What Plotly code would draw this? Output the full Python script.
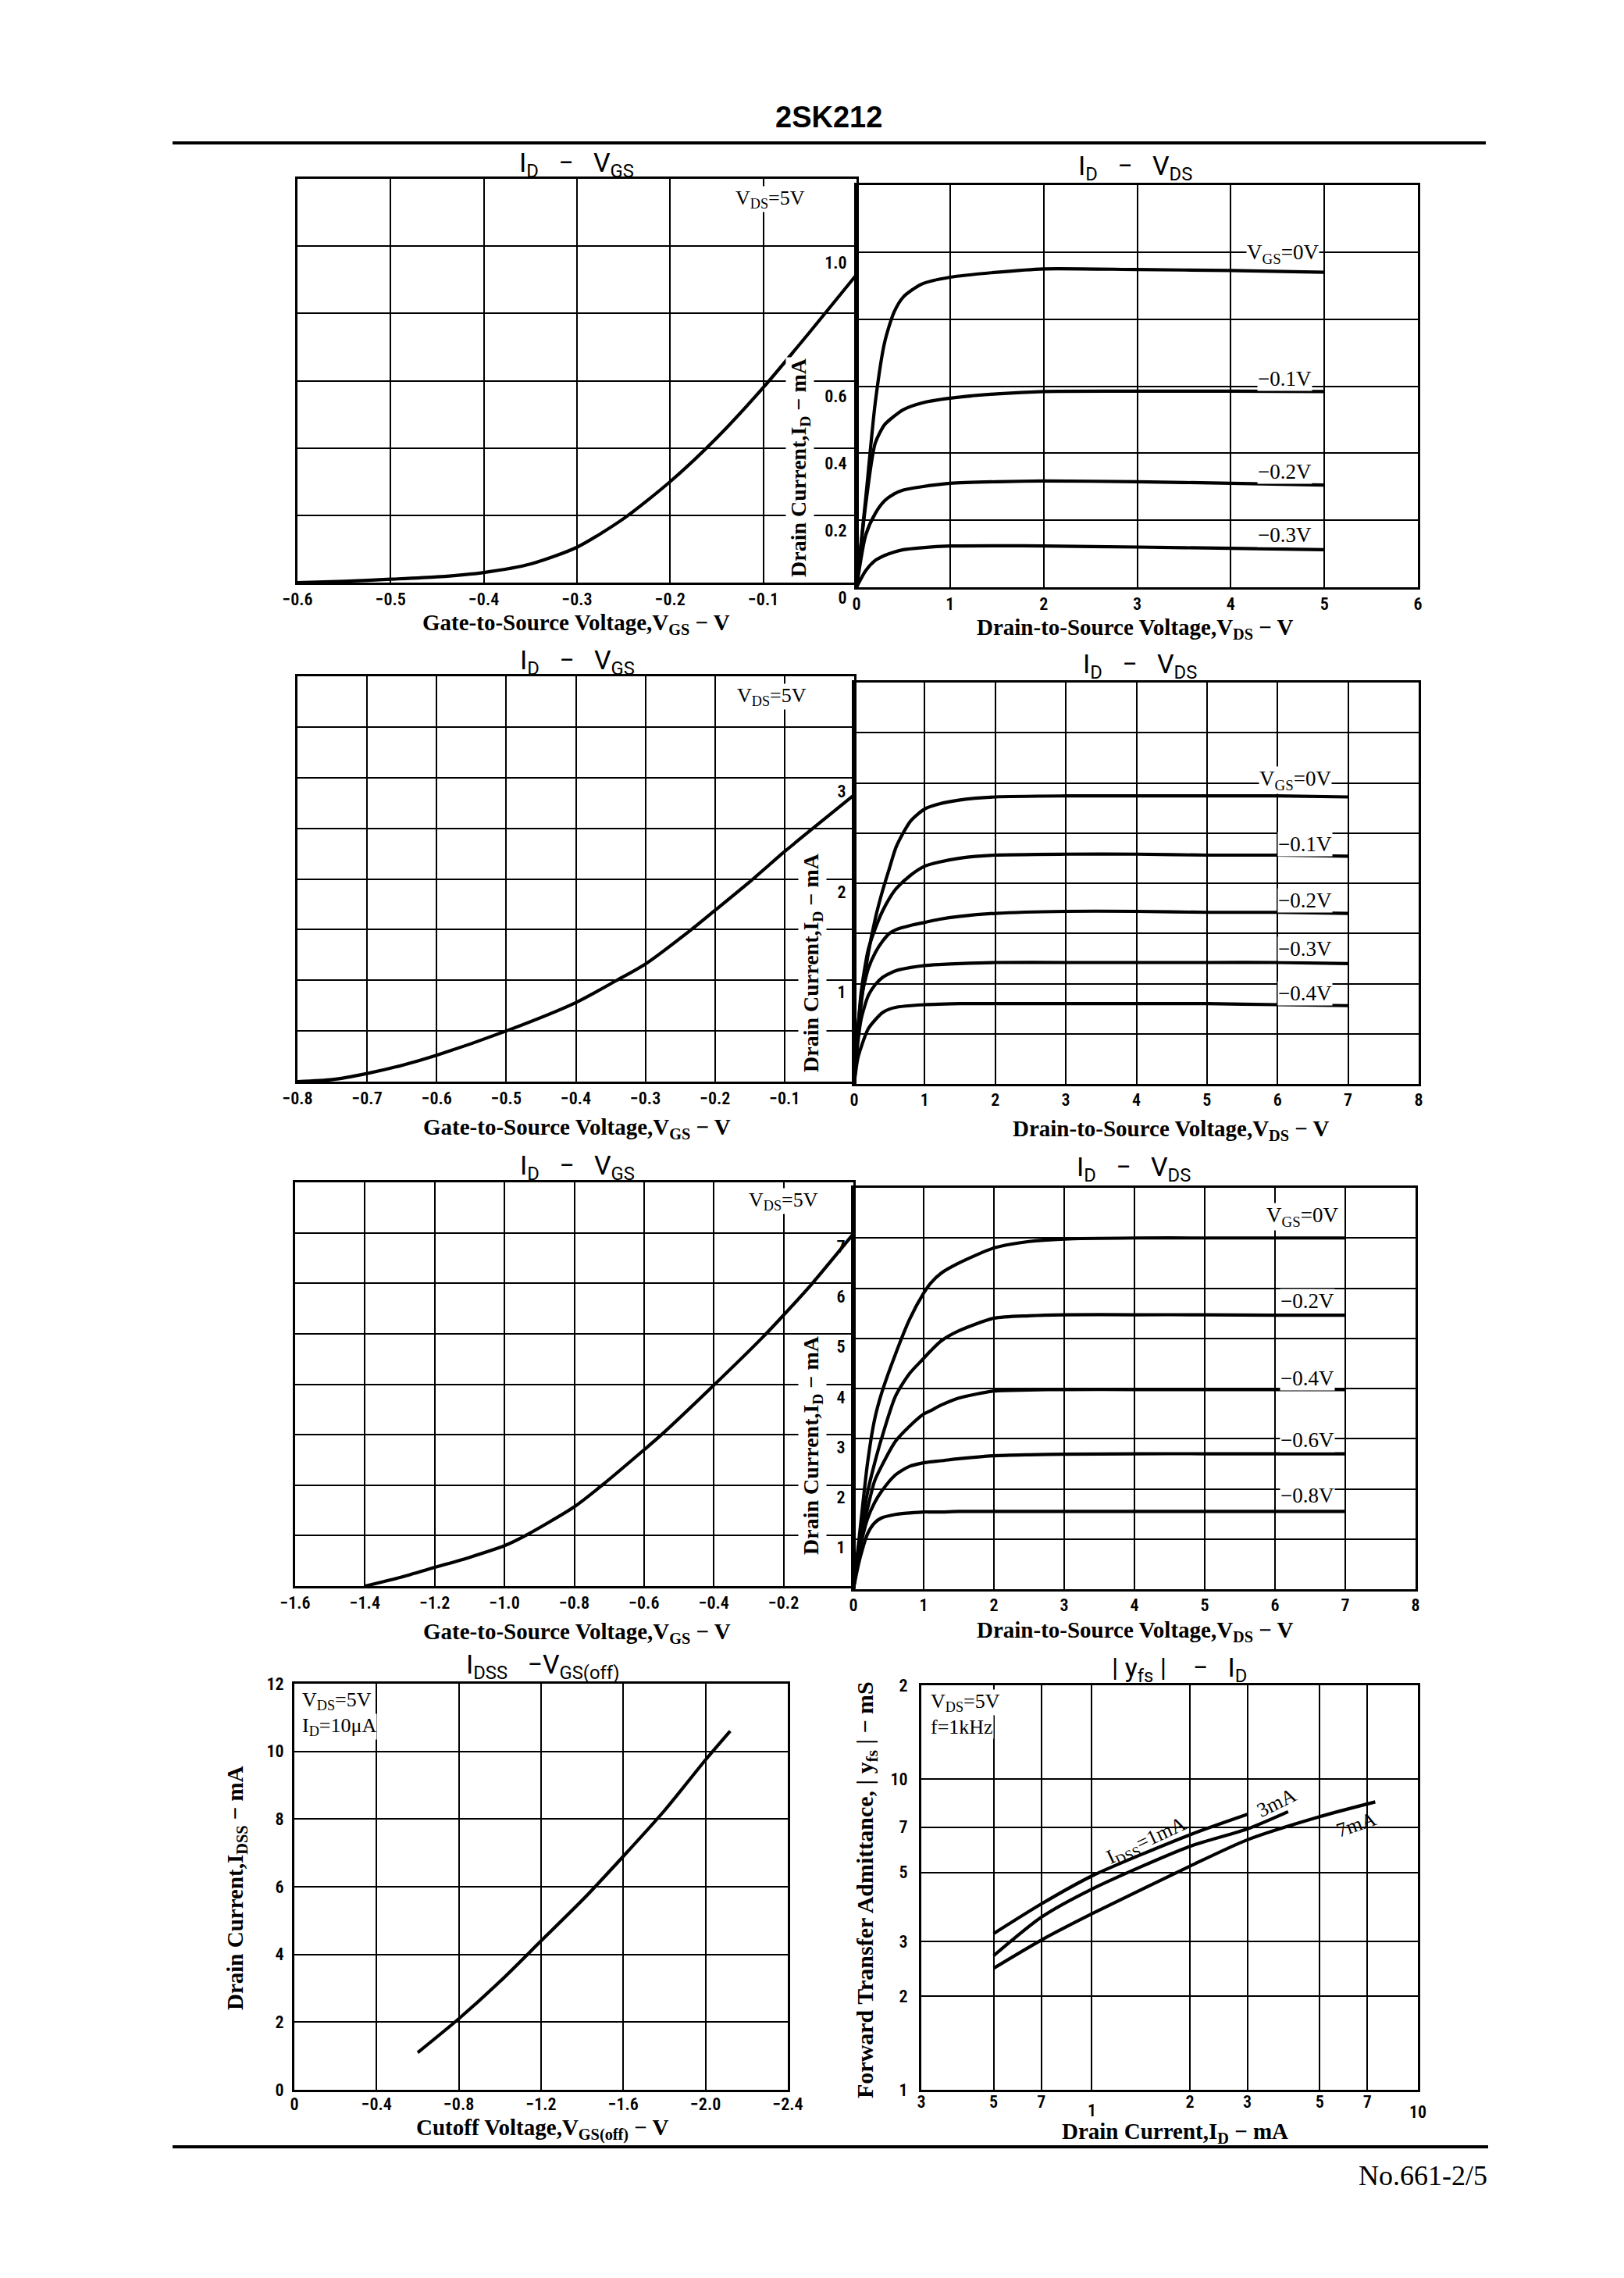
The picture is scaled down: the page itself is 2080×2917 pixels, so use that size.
import math
import plotly.graph_objects as go

W, H = 2080, 2917

# ---------------- data ----------------
# Row 1 : IDSS ~ 0.9 mA
r1_vgs = [-0.6, -0.55, -0.5, -0.45, -0.4, -0.35, -0.3, -0.25, -0.2, -0.15, -0.1, -0.05, 0.0]
r1_id = [0.0, 0.004, 0.01, 0.017, 0.03, 0.055, 0.105, 0.19, 0.30, 0.43, 0.58, 0.745, 0.915]
r1_vds = [0, 0.1, 0.2, 0.3, 0.4, 0.5, 0.7, 1.0, 1.5, 2, 3, 4, 5]
r1_id_vgs0 = [0, 0.27, 0.55, 0.73, 0.82, 0.866, 0.905, 0.925, 0.94, 0.95, 0.948, 0.945, 0.94]
r1_id_vgs01 = [0, 0.25, 0.43, 0.485, 0.51, 0.53, 0.55, 0.564, 0.577, 0.584, 0.585, 0.585, 0.584]
r1_id_vgs02 = [0, 0.157, 0.22, 0.258, 0.278, 0.29, 0.30, 0.31, 0.315, 0.317, 0.315, 0.31, 0.305]
r1_id_vgs03 = [0, 0.05, 0.08, 0.095, 0.105, 0.112, 0.118, 0.123, 0.124, 0.123, 0.12, 0.116, 0.112]
r1_curve_labels = ["V<sub>GS</sub>=0V", "−0.1V", "−0.2V", "−0.3V"]

# Row 2 : IDSS ~ 2.9 mA
r2_vgs = [-0.8, -0.75, -0.7, -0.65, -0.6, -0.5, -0.4, -0.341, -0.3, -0.234, -0.2, -0.147, -0.1, -0.061, 0.0]
r2_id = [0.0, 0.02, 0.08, 0.16, 0.26, 0.50, 0.78, 1.0, 1.16, 1.50, 1.69, 1.99, 2.27, 2.49, 2.83]
r2_vds = [0, 0.05, 0.1, 0.2, 0.3, 0.4, 0.5, 0.6, 0.8, 1.0, 1.2, 1.5, 2, 3, 4, 5, 6, 7]
r2_id_vgs0 = [0, 0.45, 0.80, 1.30, 1.65, 1.92, 2.15, 2.37, 2.62, 2.74, 2.79, 2.83, 2.86, 2.87, 2.87, 2.87, 2.87, 2.86]
r2_id_vgs01 = [0, 0.50, 0.92, 1.34, 1.55, 1.72, 1.85, 1.95, 2.08, 2.17, 2.21, 2.25, 2.28, 2.29, 2.29, 2.28, 2.28, 2.27]
r2_id_vgs02 = [0, 0.54, 0.85, 1.15, 1.31, 1.42, 1.50, 1.54, 1.58, 1.61, 1.64, 1.67, 1.70, 1.72, 1.72, 1.71, 1.71, 1.70]
r2_id_vgs03 = [0, 0.40, 0.65, 0.88, 0.99, 1.06, 1.10, 1.13, 1.16, 1.18, 1.19, 1.20, 1.21, 1.21, 1.21, 1.21, 1.21, 1.20]
r2_id_vgs04 = [0, 0.25, 0.37, 0.55, 0.64, 0.71, 0.746, 0.765, 0.78, 0.79, 0.795, 0.80, 0.80, 0.80, 0.80, 0.80, 0.79, 0.78]
r2_curve_labels = ["V<sub>GS</sub>=0V", "−0.1V", "−0.2V", "−0.3V", "−0.4V"]

# Row 3 : IDSS ~ 7 mA
r3_vgs = [-1.4, -1.3, -1.2, -1.1, -1.0, -0.94, -0.8, -0.72, -0.6, -0.55, -0.4, -0.26, -0.2, -0.12, 0.0]
r3_id = [0.0, 0.17, 0.37, 0.57, 0.80, 1.0, 1.57, 2.0, 2.7, 3.0, 3.98, 4.93, 5.37, 5.98, 6.98]
r3_vds = [0, 0.05, 0.1, 0.2, 0.3, 0.4, 0.6, 0.8, 1.0, 1.1, 1.25, 1.5, 2, 2.5, 3, 4, 5, 6, 7]
r3_id_vgs0 = [0, 0.62, 1.25, 2.5, 3.37, 3.9, 4.69, 5.38, 5.9, 6.1, 6.3, 6.5, 6.8, 6.93, 6.98, 7.0, 7.0, 7.0, 7.0]
r3_id_vgs02 = [0, 0.55, 1.08, 1.92, 2.5, 3.0, 3.85, 4.3, 4.6, 4.75, 4.95, 5.15, 5.4, 5.45, 5.47, 5.47, 5.47, 5.46, 5.46]
r3_id_vgs04 = [0, 0.5, 1.0, 1.6, 2.15, 2.45, 2.95, 3.25, 3.49, 3.56, 3.67, 3.81, 3.95, 3.97, 3.98, 3.98, 3.98, 3.98, 3.98]
r3_id_vgs06 = [0, 0.45, 0.85, 1.4, 1.72, 1.95, 2.28, 2.45, 2.52, 2.54, 2.56, 2.6, 2.66, 2.68, 2.69, 2.7, 2.7, 2.7, 2.7]
r3_id_vgs08 = [0, 0.35, 0.65, 1.1, 1.32, 1.42, 1.49, 1.52, 1.54, 1.54, 1.54, 1.55, 1.55, 1.55, 1.55, 1.55, 1.55, 1.55, 1.55]
r3_curve_labels = ["V<sub>GS</sub>=0V", "−0.2V", "−0.4V", "−0.6V", "−0.8V"]

# Row 4 left : IDSS - VGS(off)
r4_vgsoff = [-0.6, -0.8, -1.0, -1.2, -1.4, -1.6, -1.8, -2.0, -2.12]
r4_idss = [1.1, 2.1, 3.2, 4.4, 5.6, 6.9, 8.25, 9.75, 10.6]

# Row 4 right : |yfs| - ID (log-log)
yfs_id_1 = [0.5, 0.7, 1, 2, 3]
yfs_1 = [3.18, 3.96, 4.87, 6.61, 7.69]
yfs_id_3 = [0.5, 0.7, 1, 2, 3, 4]
yfs_3 = [2.70, 3.59, 4.42, 6.07, 6.90, 7.84]
yfs_id_7 = [0.5, 0.7, 1, 2, 3, 5, 7.4]
yfs_7 = [2.46, 3.03, 3.68, 5.24, 6.37, 7.56, 8.43]
yfs_curve_labels = ["I<sub>DSS</sub>=1mA", "3mA", "7mA"]

# ---------------- styling ----------------
SANS = "Roboto, Liberation Sans, sans-serif"
NARROW = "Liberation Sans Narrow, Roboto Condensed, Roboto, sans-serif"
SERIF = "Liberation Serif, DejaVu Serif, serif"
M = "\u2212"
OFF = 7  # page offset of the plot inside the browser window


def fx(p):
    return (p - OFF) / W


def fy(p):
    return 1 - (p - OFF) / H


def rng(a, b, step):
    n = int(round((b - a) / step))
    return [round(a + i * step, 3) for i in range(n + 1)]


def neg(v, fmt="{:.1f}"):
    return (M + fmt.format(-v)) if v < 0 else fmt.format(v)


fig = go.Figure()


def curve(x, y, n):
    sfx = "" if n == 1 else str(n)
    fig.add_trace(go.Scatter(
        x=x, y=y, xaxis="x" + sfx, yaxis="y" + sfx, mode="lines",
        line=dict(color="black", width=4.2, shape="spline", smoothing=0.7),
        hoverinfo="skip", showlegend=False))


def axis(dom_px, rng_, labvals, labtext, gridvals, anchor, horizontal, typ="linear",
         shift=0, standoff=0, show=True):
    dom = [fx(dom_px[0]), fx(dom_px[1])] if horizontal else [fy(dom_px[1]), fy(dom_px[0])]
    d = dict(domain=dom, range=rng_, tickmode="array", tickvals=labvals, ticktext=labtext,
             anchor=anchor, showline=True, mirror=True, linecolor="black", linewidth=3,
             showgrid=True, gridcolor="black", gridwidth=2, zeroline=False, ticks="",
             tickfont=dict(family=NARROW, size=22, color="black", weight=600),
             showticklabels=show, type=typ, fixedrange=True, automargin=False,
             ticklabelstandoff=standoff,
             minor=dict(tickmode="array", tickvals=gridvals, showgrid=True,
                        gridcolor="black", gridwidth=2, ticks=""))
    if shift:
        d["ticklabelshift"] = shift
    return d


layout_axes = {}


def panel(n, xdom, ydom, xcfg, ycfg):
    sfx = "" if n == 1 else str(n)
    layout_axes["xaxis" + sfx] = axis(xdom, anchor="y" + sfx, horizontal=True, **xcfg)
    layout_axes["yaxis" + sfx] = axis(ydom, anchor="x" + sfx, horizontal=False, **ycfg)


# Row 1
xa = rng(-0.6, 0, 0.1)
ya = rng(0, 1.2, 0.2)
panel(1, (380, 1096), (228, 745),
      dict(rng_=[-0.6, 0], labvals=xa[:-1], labtext=[neg(v) for v in xa[:-1]], gridvals=xa, standoff=0),
      dict(rng_=[0, 1.2], labvals=ya, labtext=[str(v) for v in ya], gridvals=ya, show=False))
xb = rng(0, 6, 1)
yb_lab = [0, 0.2, 0.4, 0.6, 1.0]
panel(2, (1096, 1815), (236, 751),
      dict(rng_=[0, 6], labvals=xb, labtext=[str(int(v)) for v in xb], gridvals=xb, standoff=0),
      dict(rng_=[0, 1.2], labvals=yb_lab, labtext=["0", "0.2", "0.4", "0.6", "1.0"],
           gridvals=rng(0, 1.2, 0.2), shift=13, standoff=5))
# Row 2
xc = rng(-0.8, 0, 0.1)
yc = rng(0, 4, 0.5)
panel(3, (380, 1093), (865, 1384),
      dict(rng_=[-0.8, 0], labvals=xc[:-1], labtext=[neg(v) for v in xc[:-1]], gridvals=xc, standoff=0),
      dict(rng_=[0, 4], labvals=yc, labtext=[str(v) for v in yc], gridvals=yc, show=False))
xd = rng(0, 8, 1)
panel(4, (1093, 1816), (873, 1387),
      dict(rng_=[0, 8], labvals=xd, labtext=[str(int(v)) for v in xd], gridvals=xd, standoff=-1),
      dict(rng_=[0, 4], labvals=[1, 2, 3], labtext=["1", "2", "3"], gridvals=rng(0, 4, 0.5),
           shift=11, standoff=3))
# Row 3
xe = rng(-1.6, 0, 0.2)
ye = rng(0, 8, 1)
panel(5, (377, 1092), (1513, 2030),
      dict(rng_=[-1.6, 0], labvals=xe[:-1], labtext=[neg(v) for v in xe[:-1]], gridvals=xe, standoff=0),
      dict(rng_=[0, 8], labvals=ye, labtext=[str(v) for v in ye], gridvals=ye, show=False))
xf = rng(0, 8, 1)
yf_lab = rng(1, 7, 1)
panel(6, (1092, 1812), (1520, 2034),
      dict(rng_=[0, 8], labvals=xf, labtext=[str(int(v)) for v in xf], gridvals=xf, standoff=-1),
      dict(rng_=[0, 8], labvals=yf_lab, labtext=[str(int(v)) for v in yf_lab], gridvals=rng(0, 8, 1),
           shift=11, standoff=3))
# Row 4 left
xg = [-v for v in rng(0, 2.4, 0.4)]
yg = rng(0, 12, 2)
panel(7, (376, 1008), (2155, 2675),
      dict(rng_=[0, -2.4], labvals=xg, labtext=["0"] + [neg(v) for v in xg[1:]], gridvals=xg, standoff=-3),
      dict(rng_=[0, 12], labvals=yg, labtext=[str(int(v)) for v in yg], gridvals=yg, standoff=6))
# Row 4 right (log-log)
xh_lab = [0.3, 0.5, 0.7, 2, 3, 5, 7]
xh_grid = [0.3, 0.5, 0.7, 1, 2, 3, 5, 7, 10]
yh = [1, 2, 3, 5, 7, 10, 20]
panel(8, (1179, 1815), (2157, 2675),
      dict(rng_=[math.log10(0.3), 1], labvals=xh_lab, labtext=["3", "5", "7", "2", "3", "5", "7"],
           gridvals=xh_grid, typ="log", standoff=-6),
      dict(rng_=[0, math.log10(20)], labvals=yh, labtext=["1", "2", "3", "5", "7", "10", "2"],
           gridvals=yh, typ="log", standoff=10))

# ---------------- traces ----------------
curve(r1_vgs, r1_id, 1)
for ys in (r1_id_vgs0, r1_id_vgs01, r1_id_vgs02, r1_id_vgs03):
    curve(r1_vds, ys, 2)
curve(r2_vgs, r2_id, 3)
for ys in (r2_id_vgs0, r2_id_vgs01, r2_id_vgs02, r2_id_vgs03, r2_id_vgs04):
    curve(r2_vds, ys, 4)
curve(r3_vgs, r3_id, 5)
for ys in (r3_id_vgs0, r3_id_vgs02, r3_id_vgs04, r3_id_vgs06, r3_id_vgs08):
    curve(r3_vds, ys, 6)
curve(r4_vgsoff, r4_idss, 7)
curve(yfs_id_1, yfs_1, 8)
curve(yfs_id_3, yfs_3, 8)
curve(yfs_id_7, yfs_7, 8)

# ---------------- text ----------------
anns = []


def txt(text, x, y, xref="paper", yref="paper", size=26, family=SERIF, angle=0,
        xanchor="center", yanchor="middle", bg=None, weight="normal", yshift=0):
    a = dict(text=text, x=x, y=y, xref=xref, yref=yref, showarrow=False,
             font=dict(family=family, size=size, color="black", weight=weight),
             textangle=angle, xanchor=xanchor, yanchor=yanchor, borderpad=0, yshift=yshift)
    if bg:
        a["bgcolor"] = bg
    anns.append(a)


def ptxt(text, xp, yp, **kw):
    txt(text, fx(xp), fy(yp), **kw)


SP = "\u00a0\u00a0\u00a0"
# page header / footer
ptxt("2SK212", 1060, 149, family="Liberation Sans, Roboto, sans-serif", size=38, weight="bold")
ptxt("No.661-2/5", 1905, 2785, family=SERIF, size=36, xanchor="right")

# panel titles
for t, xp, yp in [
    ("I<sub>D</sub>" + SP + M + SP + "V<sub>GS</sub>", 737, 210),
    ("I<sub>D</sub>" + SP + M + SP + "V<sub>DS</sub>", 1453, 213),
    ("I<sub>D</sub>" + SP + M + SP + "V<sub>GS</sub>", 738, 847),
    ("I<sub>D</sub>" + SP + M + SP + "V<sub>DS</sub>", 1459, 851),
    ("I<sub>D</sub>" + SP + M + SP + "V<sub>GS</sub>", 738, 1493),
    ("I<sub>D</sub>" + SP + M + SP + "V<sub>DS</sub>", 1451, 1495),
    ("I<sub>DSS</sub>" + SP + M + "V<sub>GS(off)</sub>", 694, 2132),
    ("| y<sub>fs</sub> |" + SP + "\u00a0" + M + SP + "I<sub>D</sub>", 1509, 2136),
]:
    ptxt(t, xp, yp, family=SANS, size=34)

# axis titles
GSV = "Gate-to-Source Voltage,V<sub>GS</sub> " + M + " V"
DSV = "Drain-to-Source Voltage,V<sub>DS</sub> " + M + " V"
DCI = "Drain Current,I<sub>D</sub> " + M + " mA"
for t, xp, yp in [(GSV, 737, 798), (DSV, 1453, 804), (GSV, 738, 1444), (DSV, 1499, 1446),
                  (GSV, 738, 2090), (DSV, 1453, 2088),
                  ("Cutoff Voltage,V<sub>GS(off)</sub> " + M + " V", 694, 2725),
                  (DCI, 1504, 2730)]:
    ptxt(t, xp, yp, size=29, weight="bold")
for t, xp, yp, sz in [(DCI, 1024, 598, 28), (DCI, 1040, 1232, 28), (DCI, 1039, 1850, 28),
                      ("Drain Current,I<sub>DSS</sub> " + M + " mA", 302, 2417, 29),
                      ("Forward Transfer Admittance, | y<sub>fs</sub> | " + M + " mS", 1109, 2419, 30)]:
    ptxt(t, xp, yp, size=sz, weight="bold", angle=-90, bg="white")

# conditions
VDS5 = "V<sub>DS</sub>=5V"
txt(VDS5, -0.093, 1.139, "x", "y", size=26, bg="white")
txt(VDS5, -0.118, 3.80, "x3", "y3", size=26, bg="white")
txt(VDS5, -0.20, 7.63, "x5", "y5", size=26, bg="white")
txt(VDS5, -0.034, 11.49, "x7", "y7", size=26, xanchor="left", bg="white")
txt("I<sub>D</sub>=10\u03bcA", -0.034, 10.73, "x7", "y7", size=26, xanchor="left", bg="white")
txt(VDS5, math.log10(0.318), math.log10(17.6), "x8", "y8", size=26, xanchor="left", bg="white")
txt("f=1kHz", math.log10(0.318), math.log10(14.7), "x8", "y8", size=26, xanchor="left", bg="white")

# curve labels
for lab, (xv, yv) in zip(r1_curve_labels, [(4.56, 0.995), (4.58, 0.623), (4.58, 0.344), (4.58, 0.156)]):
    txt(lab, xv, yv, "x2", "y2", size=27, bg="white")
for lab, (xv, yv) in zip(r2_curve_labels, [(6.25, 3.03), (6.39, 2.39), (6.39, 1.83), (6.39, 1.35), (6.39, 0.90)]):
    txt(lab, xv, yv, "x4", "y4", size=27, bg="white")
for lab, (xv, yv) in zip(r3_curve_labels, [(6.39, 7.42), (6.46, 5.74), (6.46, 4.21), (6.46, 2.97), (6.46, 1.87)]):
    txt(lab, xv, yv, "x6", "y6", size=27, bg="white")
for lab, (xv, yv, ang) in zip(yfs_curve_labels, [(1.47, 6.3, -25), (3.68, 8.37, -26), (6.47, 7.12, -19)]):
    txt(lab, math.log10(xv), math.log10(yv), "x8", "y8", size=26, angle=ang)

# decade labels of the log x axis sit lower than the others
txt("1", 0, 0, "x8", "y8", family=NARROW, size=22, yanchor="top", yshift=-13, weight=600)
txt("10", 1, 0, "x8", "y8", family=NARROW, size=22, yanchor="top", yshift=-15, weight=600)

shapes = [
    dict(type="line", xref="paper", yref="paper", x0=fx(220), x1=fx(1902), y0=fy(182), y1=fy(182),
         line=dict(color="black", width=4)),
    dict(type="line", xref="paper", yref="paper", x0=fx(220), x1=fx(1905), y0=fy(2748), y1=fy(2748),
         line=dict(color="black", width=4)),
]

fig.update_layout(
    width=W, height=H, margin=dict(l=0, r=0, t=0, b=0, pad=0, autoexpand=False),
    paper_bgcolor="white", plot_bgcolor="rgba(0,0,0,0)",
    showlegend=False, annotations=anns, shapes=shapes,
    font=dict(family=SERIF, color="black"),
    **layout_axes,
)

fig.write_html("out.html")
